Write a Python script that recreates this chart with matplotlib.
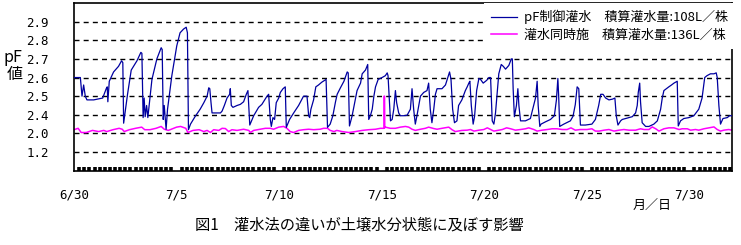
import matplotlib
matplotlib.use("Agg")
import matplotlib.pyplot as plt
import numpy as np

# ---------------- data (days after 6/30, pF) ----------------
date_labels = ["6/30", "7/5", "7/10", "7/15", "7/20", "7/25", "7/30"]
date_days = [0, 5, 10, 15, 20, 25, 30]

pf_ticks = [1.2, 2.0, 2.4, 2.5, 2.6, 2.7, 2.8, 2.9]

# pF controlled irrigation (blue)
ctrl_days = [0.00, 0.23, 0.31, 0.39, 0.47, 0.55, 0.63, 0.96, 1.40, 1.57, 1.62, 1.65,
             1.72, 1.93, 2.17, 2.32, 2.38, 2.42, 2.50, 2.61, 2.79, 3.07, 3.26, 3.31,
             3.37, 3.42, 3.47, 3.54, 3.60, 3.80, 4.04, 4.25, 4.30, 4.35, 4.40, 4.49,
             4.56, 4.77, 5.01, 5.17, 5.34, 5.47, 5.53, 5.58, 5.68, 5.90, 6.15,
             6.33, 6.49, 6.57, 6.62, 6.68, 6.73, 7.14, 7.22, 7.33, 7.46, 7.59, 7.62,
             7.67, 7.75, 7.95, 8.11, 8.27, 8.40, 8.48, 8.57, 8.76, 9.00, 9.16, 9.41,
             9.49, 9.57, 9.62, 9.70, 9.78, 9.86, 9.98, 10.06, 10.19, 10.30, 10.35,
             10.51, 10.71, 10.95, 11.19, 11.36, 11.44, 11.49, 11.55, 11.68, 11.79,
             11.92, 12.08, 12.29, 12.36, 12.49, 12.62, 12.75,
             12.83, 12.99, 13.16, 13.32, 13.37, 13.43, 13.56, 13.80, 13.97, 14.05,
             14.21, 14.32, 14.37, 14.45, 14.54, 14.62, 14.70, 14.83, 15.02, 15.18,
             15.27, 15.31, 15.38, 15.43, 15.51, 15.59, 15.67, 15.73, 15.83, 15.91,
             16.07, 16.24, 16.40, 16.48, 16.56, 16.64, 16.72, 16.89, 17.05, 17.21,
             17.29, 17.37, 17.45, 17.54, 17.62, 17.70, 17.94, 18.11, 18.31, 18.38,
             18.46, 18.55, 18.67, 18.75, 18.91, 19.08, 19.17,
             19.25, 19.30, 19.37, 19.46, 19.53, 19.63, 19.74, 19.82, 19.95, 20.12,
             20.23, 20.31, 20.39, 20.47, 20.55, 20.71, 20.83, 20.93, 21.04, 21.20,
             21.32, 21.37, 21.41, 21.47, 21.57, 21.64, 21.69, 21.77, 22.01, 22.25,
             22.50, 22.58, 22.63, 22.71, 22.77, 22.99, 23.23, 23.42, 23.52, 23.59,
             23.63, 23.68, 23.88, 24.20, 24.33, 24.44, 24.53, 24.61, 24.69, 24.93,
             25.25, 25.42, 25.58,
             25.68, 25.79, 25.92, 26.08, 26.25, 26.37, 26.44, 26.52, 26.65, 26.73,
             26.98, 27.22, 27.38, 27.46, 27.51, 27.58, 27.62, 27.70, 27.87, 28.03,
             28.27, 28.44, 28.60, 28.68, 28.76, 29.00, 29.13, 29.25, 29.41, 29.46,
             29.57, 29.73, 29.98, 30.22, 30.46, 30.62, 30.75, 30.86, 31.03, 31.20,
             31.31, 31.36, 31.44, 31.52, 31.64, 31.85, 31.96, 32.08]
ctrl_pf = [2.60, 2.60, 2.60, 2.50, 2.56, 2.50, 2.48, 2.48, 2.49, 2.54, 2.55, 2.47,
           2.58, 2.63, 2.66, 2.69, 2.68, 2.22, 2.42, 2.51, 2.64, 2.69, 2.735, 2.73,
           2.34, 2.49, 2.36, 2.45, 2.34, 2.59, 2.70, 2.76, 2.75, 2.30, 2.45, 2.09,
           2.43, 2.61, 2.77, 2.84, 2.86, 2.87, 2.84, 2.08, 2.20, 2.36, 2.43,
           2.465, 2.50, 2.545, 2.54, 2.465, 2.41, 2.41, 2.42, 2.45, 2.49, 2.51, 2.54,
           2.45, 2.44, 2.45, 2.456, 2.47, 2.51, 2.53, 2.18, 2.38, 2.44, 2.456, 2.50,
           2.51, 2.30, 2.15, 2.34, 2.30, 2.465, 2.49, 2.52, 2.54, 2.55, 2.13,
           2.30, 2.41, 2.45, 2.50, 2.50, 2.38, 2.34, 2.43, 2.48, 2.55,
           2.56, 2.575, 2.59, 2.13, 2.20, 2.38, 2.47,
           2.51, 2.545, 2.58, 2.63, 2.625, 2.16, 2.38, 2.53, 2.57, 2.62,
           2.64, 2.67, 2.30, 2.38, 2.43, 2.50, 2.55, 2.59, 2.60, 2.61,
           2.625, 2.61, 2.465, 2.27, 2.30, 2.43, 2.53, 2.465, 2.41, 2.38,
           2.38, 2.39, 2.43, 2.54, 2.43, 2.20, 2.38, 2.50, 2.52, 2.53,
           2.57, 2.43, 2.23, 2.43, 2.51, 2.54, 2.54, 2.56, 2.63, 2.59,
           2.43, 2.23, 2.27, 2.45, 2.48, 2.53, 2.55,
           2.57, 2.58, 2.45, 2.20, 2.37, 2.53, 2.595, 2.59, 2.57, 2.585,
           2.60, 2.60, 2.27, 2.20, 2.41, 2.62, 2.67, 2.66, 2.645, 2.665,
           2.70, 2.70, 2.54, 2.36, 2.45, 2.54, 2.45, 2.27, 2.27, 2.32,
           2.49, 2.58, 2.45, 2.15, 2.20, 2.25, 2.30, 2.38, 2.48, 2.595,
           2.50, 2.15, 2.20, 2.27, 2.37, 2.455, 2.55, 2.54, 2.18, 2.18,
           2.20, 2.30, 2.45,
           2.51, 2.51, 2.49, 2.48, 2.484, 2.49, 2.37, 2.18, 2.27, 2.30,
           2.33, 2.36, 2.41, 2.45, 2.52, 2.57, 2.47, 2.23, 2.15, 2.15,
           2.20, 2.27, 2.43, 2.49, 2.53, 2.55, 2.56, 2.57, 2.58, 2.16,
           2.27, 2.32, 2.34, 2.38, 2.43, 2.49, 2.60, 2.61, 2.62, 2.62,
           2.625, 2.60, 2.45, 2.20, 2.32, 2.34, 2.38, 2.38]

# irrigation with fertilizer (magenta)
fert_days = [0.00, 0.20, 0.35, 0.60, 0.90, 1.20, 1.45, 1.60, 1.90, 2.20, 2.35, 2.45,
             2.70, 3.00, 3.30, 3.45, 3.70, 4.00, 4.25, 4.40, 4.60, 4.80, 5.00, 5.20,
             5.45, 5.55, 5.80, 6.10,
             6.33, 6.49, 6.65, 6.81, 7.06, 7.22, 7.38, 7.54, 7.70, 7.95, 8.27, 8.52,
             8.60, 8.76, 9.08, 9.33, 9.57, 9.73, 9.98, 10.22, 10.38, 10.54, 10.71,
             10.95, 11.19, 11.44, 11.68, 12.00, 12.17, 12.36, 12.49, 12.68,
             12.81, 13.07, 13.40, 13.72, 14.05, 14.37, 14.70, 14.94, 15.11, 15.12,
             15.14, 15.15, 15.18, 15.42, 15.67, 15.91, 16.16, 16.32, 16.48, 16.64,
             16.89, 17.13, 17.29, 17.54, 17.70, 17.94, 18.27, 18.43, 18.59, 18.91,
             19.17, 19.33, 19.50, 19.74, 19.98, 20.15, 20.31, 20.47, 20.71, 20.88,
             21.09, 21.29, 21.52, 21.77, 22.01, 22.17, 22.42, 22.58, 22.82, 23.07,
             23.31, 23.55, 23.80, 24.04, 24.23, 24.44, 24.69, 25.01, 25.25, 25.42,
             25.60, 25.84, 26.08, 26.33, 26.57, 26.81, 27.06, 27.38, 27.62, 27.79,
             28.03, 28.19, 28.36, 28.52, 28.76, 29.00, 29.25, 29.50, 29.65, 29.90,
             30.06, 30.30, 30.46, 30.71, 30.95, 31.20, 31.36, 31.52, 31.68, 31.92,
             32.08]
fert_pf = [2.08, 2.11, 2.02, 2.02, 2.065, 2.04, 2.065, 2.04, 2.08, 2.11, 2.09, 2.04,
           2.08, 2.11, 2.135, 2.08, 2.08, 2.11, 2.15, 2.09, 2.065, 2.10, 2.135, 2.15,
           2.11, 2.02, 2.065, 2.08,
           2.04, 2.065, 2.02, 2.08, 2.065, 2.11, 2.105, 2.04, 2.08, 2.065, 2.09, 2.065,
           2.02, 2.065, 2.09, 2.11, 2.11, 2.09, 2.135, 2.15, 2.11, 2.04, 2.02,
           2.065, 2.08, 2.09, 2.08, 2.09, 2.11, 2.11, 2.065, 2.04,
           2.065, 2.04, 2.02, 2.04, 2.065, 2.08, 2.09, 2.11, 2.11, 2.50,
           2.50, 2.12, 2.135, 2.11, 2.11, 2.135, 2.15, 2.135, 2.09, 2.065,
           2.09, 2.11, 2.135, 2.105, 2.09, 2.11, 2.135, 2.08, 2.04, 2.065,
           2.07, 2.084, 2.05, 2.07, 2.084, 2.12, 2.084, 2.05, 2.07, 2.084,
           2.12, 2.10, 2.07, 2.084, 2.10, 2.12, 2.084, 2.05, 2.07, 2.084,
           2.10, 2.10, 2.084, 2.084, 2.12, 2.07, 2.084, 2.084, 2.10, 2.05,
           2.05, 2.07, 2.084, 2.05, 2.07, 2.084, 2.07, 2.07, 2.10, 2.084,
           2.084, 2.14, 2.10, 2.05, 2.10, 2.12, 2.12, 2.084, 2.10, 2.10,
           2.07, 2.084, 2.07, 2.10, 2.12, 2.14, 2.084, 2.05, 2.07, 2.084,
           2.07]

series_labels = ["pF制御灌水　積算灌水量:108L／株", "灌水同時施　積算灌水量:136L／株"]

jp_font = ["Noto Sans CJK JP", "DejaVu Sans"]
num_font = ["DejaVu Sans Mono"]

# y axis: evenly spaced gridlines, each one a pF tick
tick_pos = np.arange(1, len(pf_ticks) + 1)


def to_pos(v):
    return np.interp(v, pf_ticks, tick_pos)


fig = plt.figure(figsize=(7.41, 2.45), dpi=100)
ax = fig.add_axes([74 / 741, 1 - 170.7 / 245, 658 / 741, 167.7 / 245])

ax.plot(ctrl_days, to_pos(ctrl_pf), color="#0000a0", lw=0.9, label=series_labels[0], zorder=3)
ax.plot(fert_days, to_pos(fert_pf), color="#ff00ff", lw=1.1, label=series_labels[1], zorder=2)

ax.set_xlim(0, 32.08)
ax.set_ylim(0, 9)

ax.set_yticks(tick_pos)
ax.set_yticklabels([f"{v:.1f}" for v in pf_ticks], family=num_font, fontsize=9)
ax.set_xticks(date_days)
ax.set_xticklabels(date_labels, family=num_font, fontsize=9)
ax.set_xticks(np.arange(0, 32.1, 0.25), minor=True)
ax.tick_params(axis="y", length=0, pad=18)
ax.tick_params(axis="x", which="major", length=0, pad=13)
ax.tick_params(axis="x", which="minor", direction="in", length=3.0, width=2.6, color="black")

ax.yaxis.grid(True, color="black", lw=1.0, linestyle=(0, (3.6, 3.0)))
ax.set_axisbelow(True)
for s in ax.spines.values():
    s.set_linewidth(1.2)
    s.set_color("black")

leg = ax.legend(loc="upper left", bbox_to_anchor=(0.623, 1.0), borderaxespad=0,
                frameon=True, facecolor="white", edgecolor="none", framealpha=1,
                fancybox=False, handlelength=2.0, handletextpad=0.5,
                labelspacing=0.35, borderpad=0.55,
                prop={"family": jp_font, "size": 9.4})

fig.text(13 / 741, 1 - 57 / 245, "pF", family=jp_font, fontsize=11.5, ha="center", va="center")
fig.text(15 / 741, 1 - 75 / 245, "値", family=jp_font, fontsize=11.5, ha="center", va="center")
fig.text(652 / 741, 1 - 205 / 245, "月／日", family=jp_font, fontsize=9.4, ha="center", va="center")
fig.text(359 / 741, 1 - 225 / 245, "図1　灌水法の違いが土壌水分状態に及ぼす影響",
         family=jp_font, fontsize=11, ha="center", va="center")

fig.savefig("out.png", dpi=100)
